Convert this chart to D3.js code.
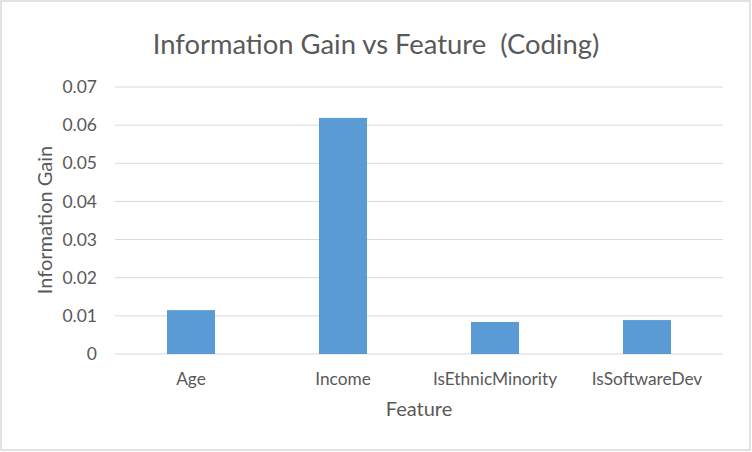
<!DOCTYPE html>
<html>
<head>
<meta charset="utf-8">
<script src="https://cdn.jsdelivr.net/npm/d3@7"></script>
<style>
  body { margin: 0; background: #fff; }
  text { font-family: Lato, "Open Sans", sans-serif; fill: #595959; }
</style>
</head>
<body>
<div id="chart"></div>
<script>
var features = ['Age', 'Income', 'IsEthnicMinority', 'IsSoftwareDev']
var gains = [0.0115, 0.0619, 0.0084, 0.0089]
var yTicks = [0, 0.01, 0.02, 0.03, 0.04, 0.05, 0.06, 0.07]

var width = 752, height = 452
var margin = {top: 87, right: 29, bottom: 98, left: 115}

var svg = d3.select('#chart').append('svg')
    .attr('width', width)
    .attr('height', height)

// outer border like the spreadsheet chart frame
svg.append('rect')
    .attr('x', 1).attr('y', 1)
    .attr('width', width - 3).attr('height', height - 3)
    .attr('fill', '#fff')
    .attr('stroke', '#d9d9d9')
    .attr('stroke-width', 1.5)

var x = d3.scaleBand()
    .domain(features)
    .range([margin.left, width - margin.right])
    .paddingInner(0.684)
    .paddingOuter(0.342)

var y = d3.scaleLinear()
    .domain([0, 0.07])
    .range([height - margin.bottom, margin.top])

// gridlines
svg.append('g')
    .selectAll('line')
    .data(yTicks)
    .enter().append('line')
    .attr('x1', margin.left)
    .attr('x2', width - margin.right)
    .attr('y1', d => y(d))
    .attr('y2', d => y(d))
    .attr('stroke', '#d9d9d9')
    .attr('stroke-width', 1)

// y tick labels
svg.append('g')
    .selectAll('text')
    .data(yTicks)
    .enter().append('text')
    .attr('x', 97)
    .attr('y', d => y(d))
    .attr('dy', '0.35em')
    .attr('text-anchor', 'end')
    .attr('font-size', 17.5)
    .text(d => d === 0 ? '0' : d3.format('.2f')(d))

// bars
svg.append('g')
    .selectAll('rect')
    .data(features)
    .enter().append('rect')
    .attr('x', d => x(d))
    .attr('width', x.bandwidth())
    .attr('y', (d, i) => y(gains[i]))
    .attr('height', (d, i) => y(0) - y(gains[i]))
    .attr('fill', '#5b9bd5')

// x labels
svg.append('g')
    .selectAll('text')
    .data(features)
    .enter().append('text')
    .attr('x', d => x(d) + x.bandwidth() / 2)
    .attr('y', 385)
    .attr('text-anchor', 'middle')
    .attr('font-size', 17.3)
    .text(d => d)

svg.append('text')
    .attr('x', (margin.left + width - margin.right) / 2)
    .attr('y', 416)
    .attr('text-anchor', 'middle')
    .attr('font-size', 20)
    .text('Feature')

svg.append('text')
    .attr('transform', 'translate(52,220) rotate(-90)')
    .attr('text-anchor', 'middle')
    .attr('font-size', 20)
    .text('Information Gain')

svg.append('text')
    .attr('x', 376)
    .attr('y', 54)
    .attr('text-anchor', 'middle')
    .attr('font-size', 27.4)
    .text('Information Gain vs Feature  (Coding)')
    .style('white-space', 'pre')
</script>
</body>
</html>
